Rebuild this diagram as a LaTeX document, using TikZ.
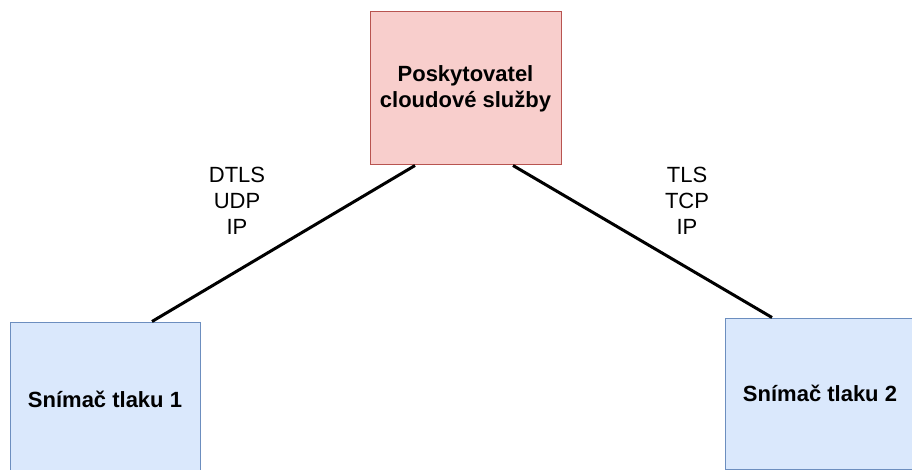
\documentclass[tikz,border=0pt]{standalone}
\usepackage{fontspec}
\setmainfont{Liberation Sans}
\usetikzlibrary{positioning}
\definecolor{cloudfill}{HTML}{F8CECC}
\definecolor{cloudline}{HTML}{B85450}
\definecolor{sensfill}{HTML}{DAE8FC}
\definecolor{sensline}{HTML}{6C8EBF}

\begin{document}
\begin{tikzpicture}[x=1pt,y=-1pt,
  cloudbox/.style={draw=cloudline,fill=cloudfill,line width=1pt,minimum width=191pt,minimum height=153pt,align=center,font=\fontsize{22}{26}\selectfont\bfseries},
  sensbox/.style={draw=sensline,fill=sensfill,line width=1pt,minimum width=190pt,minimum height=150pt,align=center,font=\fontsize{22}{26}\selectfont\bfseries},
  proto/.style={align=center,font=\fontsize{22}{26}\selectfont},
  link/.style={line width=3pt}]
  \useasboundingbox (0,0) rectangle (912,470); %Page size

  \node[cloudbox] (cloud) at (465.5,88.5) {Poskytovatel\\cloudové služby}; % Cloud provider
  \node[sensbox,minimum height=154pt] (sens1) at (105,399) {Snímač tlaku 1}; % Sensor 1
  \node[sensbox,minimum height=151pt] (sens2) at (820,393.5) {Snímač tlaku 2}; % Sensor 2

  \node[proto] (prot1) at (237,201) {DTLS\\UDP\\IP}; %Left stack
  \node[proto] (prot2) at (687,201) {TLS\\TCP\\IP};  %Right stack

  \coordinate (c1) at ([xshift=-50.5pt]cloud.south);
  \coordinate (c2) at ([xshift=47.5pt]cloud.south);
  \coordinate (s1) at ([xshift=47pt]sens1.north);
  \coordinate (s2) at ([xshift=-48pt]sens2.north);

  \draw[link] (c1) -- (s1); %Link to sensor 1
  \draw[link] (c2) -- (s2); %Link to sensor 2
\end{tikzpicture}
\end{document}
